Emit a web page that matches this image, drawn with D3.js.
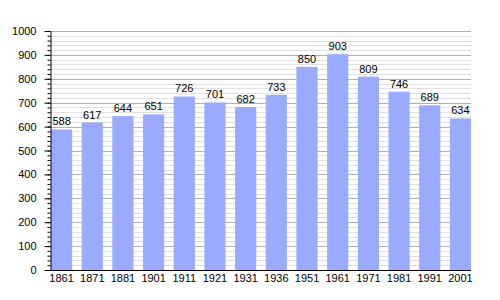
<!DOCTYPE html>
<html>
<head>
<meta charset="utf-8">
<script src="https://cdn.jsdelivr.net/npm/d3@7"></script>
<style>
  body { margin: 0; background: #fff; }
  text { font-family: "Liberation Sans", Arial, sans-serif; }
</style>
</head>
<body>
<svg width="500" height="300"></svg>
<script>
// census years and population
var years = ["1861", "1871", "1881", "1901", "1911", "1921", "1931", "1936", "1951", "1961", "1971", "1981", "1991", "2001"];
var population = [588, 617, 644, 651, 726, 701, 682, 733, 850, 903, 809, 746, 689, 634];
var yTicks = [0, 100, 200, 300, 400, 500, 600, 700, 800, 900, 1000];

let svg = d3.select("svg");
var plotLeft = 50, plotRight = 471, plotTop = 31, plotBottom = 270;

var x = d3.scaleBand()
    .domain(years)
    .range([plotLeft + 1, plotRight])
    .paddingInner(0.31)
    .paddingOuter(0);

var y = d3.scaleLinear()
    .domain([0, 1000])
    .range([plotBottom, plotTop]);

// minor gridlines every 20
var minor = d3.range(20, 1001, 20).filter(function (v) { return v % 100 != 0; });
svg.append("g")
    .selectAll("line")
    .data(minor)
    .enter()
    .append("line")
    .attr("x1", plotLeft).attr("x2", plotRight)
    .attr("y1", function (d) { return Math.round(y(d)) + 0.5; })
    .attr("y2", function (d) { return Math.round(y(d)) + 0.5; })
    .style("stroke", "#e0e0e0");

// major gridlines every 100
svg.append("g")
    .selectAll("line")
    .data(yTicks.slice(1))
    .enter()
    .append("line")
    .attr("x1", plotLeft).attr("x2", plotRight)
    .attr("y1", function (d) { return Math.round(y(d)) + 0.5; })
    .attr("y2", function (d) { return Math.round(y(d)) + 0.5; })
    .style("stroke", "#b0b0b0");

// bars
svg.append("g")
    .selectAll("rect")
    .data(population)
    .enter()
    .append("rect")
    .attr("x", function (d, i) { return x(years[i]); })
    .attr("width", x.bandwidth())
    .attr("y", function (d) { return y(d); })
    .attr("height", function (d) { return plotBottom - y(d); })
    .attr("fill", "#99aaff");

// value labels
svg.append("g")
    .selectAll("text")
    .data(population)
    .enter()
    .append("text")
    .attr("x", function (d, i) { return x(years[i]) + x.bandwidth() / 2; })
    .attr("y", function (d) { return y(d) - 4; })
    .attr("text-anchor", "middle")
    .style("font-size", "11px")
    .text(function (d) { return d; });

// y axis with minor ticks
svg.append("g")
    .attr("transform", "translate(" + (plotLeft + 0.5) + ",0)")
    .call(d3.axisLeft(y).tickValues(d3.range(0, 1001, 20)).tickSize(3).tickFormat(""))
    .call(function (g) { g.select(".domain").remove(); });

var yAxis = svg.append("g")
    .attr("transform", "translate(" + (plotLeft + 0.5) + ",0)")
    .call(d3.axisLeft(y).tickValues(yTicks).tickSize(6).tickPadding(8).tickSizeOuter(0).tickFormat(d3.format("d")));
yAxis.selectAll("text").style("font-size", "11px").attr("fill", "#000");

// x axis
var xAxis = svg.append("g")
    .attr("transform", "translate(0," + (plotBottom + 0.5) + ")")
    .call(d3.axisBottom(x).tickSize(0).tickPadding(4));
xAxis.select(".domain").attr("d", "M" + plotLeft + ",0H" + plotRight);
xAxis.selectAll("text").style("font-size", "11px").attr("fill", "#000");
</script>
</body>
</html>
